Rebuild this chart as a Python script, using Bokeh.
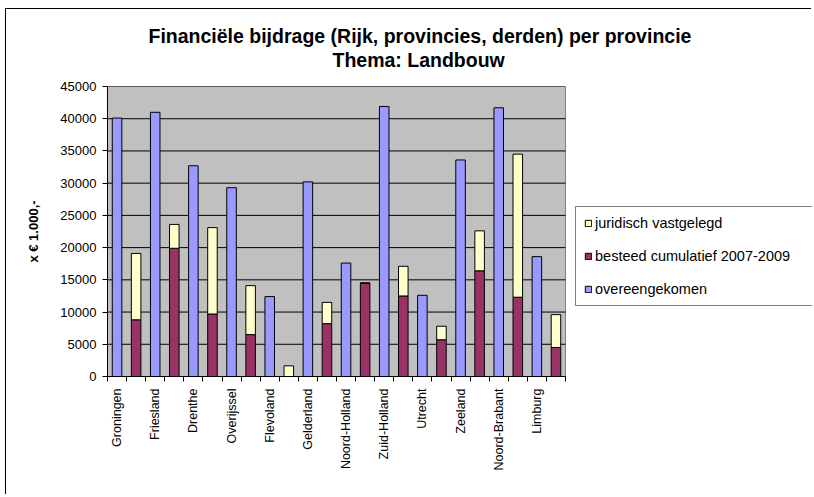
import math
from bokeh.plotting import figure
from bokeh.models import FixedTicker, Legend, LegendItem, Title, ColumnDataSource
from bokeh.embed import file_html
from bokeh.resources import INLINE

# ---- data ----
provinces = ["Groningen", "Friesland", "Drenthe", "Overijssel", "Flevoland",
             "Gelderland", "Noord-Holland", "Zuid-Holland", "Utrecht",
             "Zeeland", "Noord-Brabant", "Limburg"]
overeengekomen = [40100, 41000, 32700, 29300, 12400, 30200, 17600, 41900,
                  12600, 33600, 41700, 18600]
besteed = [8800, 19900, 9700, 6500, 0, 8200, 14500, 12500, 5700, 16400,
           12300, 4500]
juridisch = [10300, 3700, 13400, 7600, 1650, 3300, 0, 4600, 2100, 6200,
             22200, 5100]
y_ticks = [0, 5000, 10000, 15000, 20000, 25000, 30000, 35000, 40000, 45000]

title_1 = "Financiële bijdrage (Rijk, provincies, derden) per provincie"
title_2 = "Thema: Landbouw"
y_title = "x \u20ac 1.000,-"

FONT = "Liberation Sans"
BLUE = "#9999FF"
MAROON = "#993366"
YELLOW = "#FFFFCC"
PLOT_GRAY = "#C0C0C0"

n = len(provinces)
n_slots = 2 * n
y_max = y_ticks[-1]
x_blue = [2 * i + 0.5 for i in range(n)]
x_stack = [2 * i + 1.5 for i in range(n)]

src_blue = ColumnDataSource(dict(x=x_blue, top=overeengekomen))
src_stack = ColumnDataSource(dict(x=x_stack, besteed=besteed, juridisch=juridisch))

# geometry (pixels)
W, H = 806, 486
LEFT, TOP, BOTTOM = 101, 77, 119
frame_w = W - LEFT
area_w = 458                       # width of the grey plot area
x_end = n_slots * frame_w / area_w  # frame spans further right for the legend

p = figure(width=W, height=H, x_range=(0, x_end), y_range=(0, y_max),
           output_backend="svg", toolbar_location=None,
           min_border_left=LEFT, min_border_right=0,
           min_border_top=TOP, min_border_bottom=BOTTOM)
p.styles = {"border-left": "1px solid black", "border-top": "1px solid black",
            "margin-left": "5px", "margin-top": "8px"}

p.background_fill_color = "white"
p.border_fill_color = "white"
p.outline_line_color = None

# grey plot area with horizontal gridlines
p.quad(left=[0], right=[n_slots], bottom=[0], top=[y_max],
       fill_color=PLOT_GRAY, line_color="#808080", line_width=1, level="underlay")
p.segment(x0=[0] * len(y_ticks), x1=[n_slots] * len(y_ticks), y0=y_ticks,
          y1=y_ticks, line_color="black", line_width=1, level="underlay")

r_blue = p.vbar(x="x", top="top", width=0.5, source=src_blue,
                fill_color=BLUE, line_color="black", line_width=1)
r_stack = p.vbar_stack(["besteed", "juridisch"], x="x", width=0.5,
                       source=src_stack, fill_color=[MAROON, YELLOW],
                       line_color="black", line_width=1)

# axes
p.xgrid.visible = False
p.ygrid.visible = False

ya = p.yaxis[0]
ya.ticker = FixedTicker(ticks=y_ticks)
ya.axis_line_color = "black"
ya.major_tick_out = 5
ya.major_tick_in = 0
ya.minor_tick_out = 0
ya.minor_tick_in = 0
ya.major_label_standoff = 6
ya.major_label_text_font = FONT
ya.major_label_text_font_size = "13px"
ya.major_label_text_color = "black"
ya.axis_label = y_title
ya.axis_label_text_font = FONT
ya.axis_label_text_font_size = "13px"
ya.axis_label_text_font_style = "bold"
ya.axis_label_standoff = 16
ya.axis_label_text_color = "black"

xa = p.xaxis[0]
xa.bounds = (0, n_slots)
xa.ticker = FixedTicker(ticks=x_blue, minor_ticks=list(range(0, n_slots + 1)))
xa.major_label_overrides = {x: name for x, name in zip(x_blue, provinces)}
xa.major_label_orientation = math.pi / 2
xa.major_tick_out = 0
xa.major_tick_in = 0
xa.minor_tick_out = 5
xa.minor_tick_in = 0
xa.minor_tick_line_color = "black"
xa.axis_line_color = "black"
xa.major_label_standoff = 7
xa.major_label_text_font = FONT
xa.major_label_text_font_size = "12.5px"
xa.major_label_text_color = "black"

# legend (reversed order as in the reference)
legend = Legend(items=[
    LegendItem(label="juridisch vastgelegd", renderers=[r_stack[1]]),
    LegendItem(label="besteed cumulatief 2007-2009", renderers=[r_stack[0]]),
    LegendItem(label="overeengekomen", renderers=[r_blue]),
], location=(468, 70))
legend.label_text_font = FONT
legend.label_text_font_size = "14.5px"
legend.label_text_color = "black"
legend.glyph_width = 8
legend.glyph_height = 8
legend.label_height = 16
legend.label_standoff = 3
legend.spacing = 17
legend.padding = 8
legend.margin = 0
legend.border_line_color = "black"
legend.border_line_width = 1
legend.background_fill_color = "white"
legend.background_fill_alpha = 1
legend.label_width = 260
p.add_layout(legend, "center")

# two-line title (spacer first, then line 2, then line 1, stacked upwards)
spacer = Title(text=" ", text_font=FONT, text_font_size="12px", standoff=0)
t2 = Title(text=title_2, align="left", offset=225, text_font=FONT,
           text_font_size="19.5px", text_font_style="bold", text_color="black",
           standoff=0)
t1 = Title(text=title_1, align="left", offset=41, text_font=FONT,
           text_font_size="19.5px", text_font_style="bold", text_color="black",
           standoff=0)
p.add_layout(spacer, "above")
p.add_layout(t2, "above")
p.add_layout(t1, "above")

open("out.html", "w").write(file_html(p, INLINE))
